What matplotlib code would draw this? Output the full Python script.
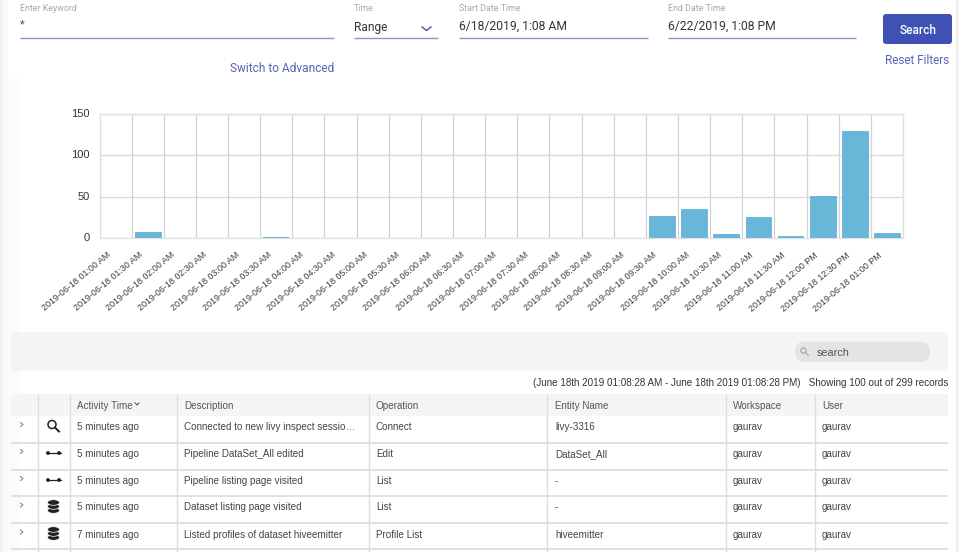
import matplotlib
matplotlib.use("Agg")
import matplotlib.pyplot as plt
from matplotlib.patches import Rectangle, FancyBboxPatch, Circle, Ellipse
from matplotlib.transforms import ScaledTranslation

W, H = 959, 552
categories = ["2019-06-18 01:00 AM", "2019-06-18 01:30 AM", "2019-06-18 02:00 AM", "2019-06-18 02:30 AM",
              "2019-06-18 03:00 AM", "2019-06-18 03:30 AM", "2019-06-18 04:00 AM", "2019-06-18 04:30 AM",
              "2019-06-18 05:00 AM", "2019-06-18 05:30 AM", "2019-06-18 06:00 AM", "2019-06-18 06:30 AM",
              "2019-06-18 07:00 AM", "2019-06-18 07:30 AM", "2019-06-18 08:00 AM", "2019-06-18 08:30 AM",
              "2019-06-18 09:00 AM", "2019-06-18 09:30 AM", "2019-06-18 10:00 AM", "2019-06-18 10:30 AM",
              "2019-06-18 11:00 AM", "2019-06-18 11:30 AM", "2019-06-18 12:00 PM", "2019-06-18 12:30 PM",
              "2019-06-18 01:00 PM"]
values = [0, 7, 0, 0, 0, 1, 0, 0, 0, 0, 0, 0, 0, 0, 0, 0, 0, 27, 35, 5, 26, 2, 51, 130, 6]
y_ticks = [0, 50, 100, 150]

headers = ["Activity Time", "Description", "Operation", "Entity Name", "Workspace", "User"]
times = ["5 minutes ago", "5 minutes ago", "5 minutes ago", "5 minutes ago", "7 minutes ago"]
descriptions = ["Connected to new livy inspect sessio\u2026", "Pipeline DataSet_All edited",
                "Pipeline listing page visited", "Dataset listing page visited",
                "Listed profiles of dataset hiveemitter"]
operations = ["Connect", "Edit", "List", "List", "Profile List"]
entities = ["livy-3316", "DataSet_All", "-", "-", "hiveemitter"]
workspaces = ["gaurav"] * 5
users = ["gaurav"] * 5
icons = ["search", "pipe", "pipe", "db", "db"]

fig = plt.figure(figsize=(W / 100, H / 100), dpi=100, facecolor="white")

# page layer in pixel coordinates
ui = fig.add_axes([0, 0, 1, 1], zorder=0)
ui.set_xlim(0, W)
ui.set_ylim(H, 0)
ui.axis("off")

def rect(x, y, w, h, c, **kw):
    ui.add_patch(Rectangle((x, y), w, h, facecolor=c, edgecolor="none", **kw))

def hline(x0, x1, y, c="#8a94cc", lw=1.0):
    ui.plot([x0, x1], [y, y], color=c, lw=lw, solid_capstyle="butt")

def vline(x, y0, y1, c="#dedede", lw=1.0):
    ui.plot([x, x], [y0, y1], color=c, lw=lw, solid_capstyle="butt")

UI = "Roboto"
TB = "Liberation Sans"
TS = 7.15

# gutters
rect(0, 0, 3, H, "#f1f1f1")
rect(3, 0, 5, H, "#f8f8f8")
rect(8, 79, 12, H - 79, "#fbfbfb")
rect(956, 0, 3, H, "#f1f1f1")

# filter bar
ui.text(20, 8.5, "Enter Keyword", fontsize=6.4, color="#a8a8a8", family=UI, va="center")
ui.text(20, 24, "*", fontsize=8, color="#7a3b3b", family=UI, va="center")
hline(20, 334, 37.5)
ui.text(354, 8.5, "Time", fontsize=6.4, color="#a8a8a8", family=UI, va="center")
ui.text(354, 27, "Range", fontsize=8.6, color="#333333", family=UI, va="center")
ui.plot([422, 426.5, 431], [27, 30.5, 27], color="#3f51b5", lw=1.0)
hline(354, 438, 37.5)
ui.text(459, 8.5, "Start Date Time", fontsize=6.4, color="#a8a8a8", family=UI, va="center")
ui.text(459, 26, "6/18/2019, 1:08 AM", fontsize=8.7, color="#333333", family=UI, va="center")
hline(459, 648, 37.5)
ui.text(668, 8.5, "End Date Time", fontsize=6.4, color="#a8a8a8", family=UI, va="center")
ui.text(668, 26, "6/22/2019, 1:08 PM", fontsize=8.7, color="#333333", family=UI, va="center")
hline(668, 856, 37.5)
ui.add_patch(FancyBboxPatch((883, 14), 69, 30, boxstyle="round,pad=0,rounding_size=3",
                            facecolor="#3f51b5", edgecolor="none"))
ui.text(918, 30, "Search", fontsize=8.6, color="white", family=UI, va="center", ha="center", weight="medium")
ui.text(917.5, 60, "Reset Filters", fontsize=8.5, color="#5a62b8", family=UI, va="center", ha="center")
ui.text(334, 68, "Switch to Advanced", fontsize=8.6, color="#5a62b8", family=UI, va="center", ha="right")

# search band
rect(11, 332, 937, 39, "#f5f5f5")
ui.add_patch(FancyBboxPatch((795, 341.5), 135, 20.5, boxstyle="round,pad=0,rounding_size=10",
                            facecolor="#e4e4e4", edgecolor="none"))
ui.add_patch(Circle((803.5, 350.5), 2.6, facecolor="none", edgecolor="#999999", lw=0.7))
ui.plot([805.5, 808.5], [352.5, 355.5], color="#999999", lw=0.7)
ui.text(817, 352.5, "search", fontsize=7.8, color="#555555", family=TB, va="center")
ui.text(948, 383, "(June 18th 2019 01:08:28 AM - June 18th 2019 01:08:28 PM)   Showing 100 out of 299 records",
        fontsize=7.08, color="#333333", family=TB, va="center", ha="right")

# table
rect(11, 394, 937, 22, "#f5f5f5")
col_lines = [37.5, 69.5, 176.5, 368.5, 546.5, 725.5, 814.5]
for x in col_lines:
    vline(x, 394, H)
for y in [442.5, 469.5, 496, 522.5, 549]:
    hline(11, 948, y, c="#dcdcdc", lw=1.2)

col_x = [77, 184, 376, 555, 733, 822]
for x, t in zip(col_x, headers):
    ui.text(x, 406, t, fontsize=TS, color="#555555", family=TB, va="center")
ui.plot([135, 137, 139], [403, 405, 403], color="#444444", lw=0.7)

row_y = [426, 453, 480, 506.5, 533.5]
columns = [times, descriptions, operations, entities, workspaces, users]
for i, y in enumerate(row_y):
    ui.plot([20.5, 23, 20.5], [y - 3.5, y - 1.5, y + 0.5], color="#7a70c8", lw=0.7)
    for x, col in zip(col_x, columns):
        ui.text(x, y + 1, col[i], fontsize=TS, color="#444444", family=TB, va="center")
    cx = 53.5
    if icons[i] == "search":
        ui.add_patch(Circle((cx - 1.5, y - 1.5), 4.0, facecolor="none", edgecolor="#222222", lw=1.1))
        ui.plot([cx + 1.5, cx + 5.5], [y + 1.5, y + 5.5], color="#222222", lw=1.4)
    elif icons[i] == "pipe":
        ui.plot([cx - 7, cx + 7], [y, y], color="#222222", lw=0.9)
        ui.add_patch(Circle((cx - 5.5, y), 1.9, facecolor="#222222", edgecolor="none"))
        ui.add_patch(Circle((cx + 5.5, y), 1.9, facecolor="#222222", edgecolor="none"))
    else:
        for dy in [4, 0, -4]:
            ui.add_patch(Ellipse((cx, y + dy), 12, 5.6, facecolor="#222222",
                                 edgecolor="white", lw=0.5))

# chart
left, right, top, bottom = 99.5, 903, 114, 238
ax = fig.add_axes([left / W, 1 - bottom / H, (right - left) / W, (bottom - top) / H], zorder=2)
ax.patch.set_alpha(0)
pos = [i + 0.5 for i in range(len(categories))]
ax.bar(pos, values, width=0.8, color="#6ab6d9", edgecolor="#5fb3dc",
       linewidth=[0.6 if v > 1 else 0 for v in values], zorder=3)
ax.set_xlim(0, len(categories))
ax.set_ylim(0, 150)
ax.set_yticks(y_ticks)
ax.tick_params(axis="y", length=0, pad=7, labelsize=8.0, labelcolor="#333333")
ax.set_xticks(pos)
ax.set_xticklabels(categories, rotation=40, ha="right", va="top", rotation_mode="anchor",
                   fontsize=6.4, color="#3a3a3a", family=TB)
ax.tick_params(axis="x", length=0, pad=9)
shift = ScaledTranslation(-9 / 100, 0, fig.dpi_scale_trans)
for lab in ax.get_xticklabels():
    lab.set_transform(lab.get_transform() + shift)
lift = ScaledTranslation(0, 1 / 100, fig.dpi_scale_trans)
for lab in ax.get_yticklabels():
    lab.set_family(TB)
    lab.set_transform(lab.get_transform() + lift)
ax.set_xticks(range(len(categories) + 1), minor=True)
ax.tick_params(axis="x", which="minor", length=0)
ax.grid(True, which="minor", axis="x", color="#d2d2d2", lw=0.9, zorder=1)
ax.grid(True, which="major", axis="y", color="#d8d8d8", lw=0.9, zorder=1)
for s in ax.spines.values():
    s.set_color("#e2e2e2")
    s.set_linewidth(1.0)

fig.savefig("out.png", dpi=100)
